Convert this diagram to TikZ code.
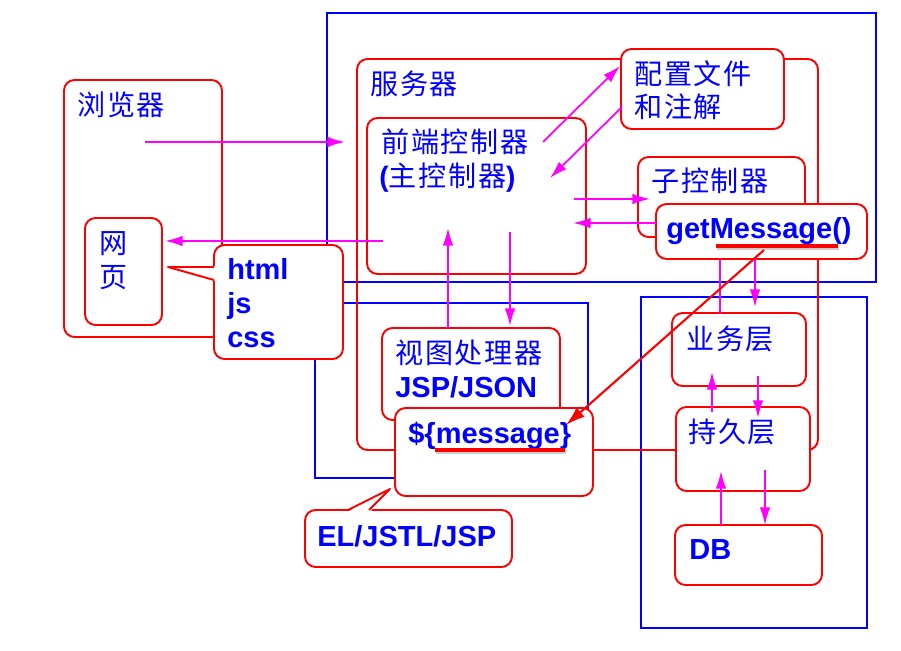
\documentclass[tikz,border=0pt]{standalone}
\usepackage{fontspec}
\setmainfont{Liberation Sans}
\newfontfamily\cjk[LetterSpace=6]{Noto Sans CJK SC}
\usetikzlibrary{fit,arrows.meta}
\definecolor{fucsia}{RGB}{255,0,255}

\begin{document}
\begin{tikzpicture}[x=0.02cm, y=-0.02cm,
        % Cajas rojas con esquinas redondeadas
        caja/.style={draw=red, line width=1.1pt, rounded corners=6pt, fill=white, inner sep=0pt},
        % Marcos azules (capas)
        marco/.style={draw=blue, line width=1.1pt, inner sep=0pt},
        % Flechas y lineas fucsia
        flecha/.style={fucsia, line width=1pt, -{Latex[length=10pt,width=6pt]}},
        linea/.style={fucsia, line width=1pt},
        % Textos
        cn/.style={text=blue, font=\cjk\fontsize{16}{19}\selectfont, inner sep=0pt, anchor=west},
        en/.style={text=blue, font=\bfseries\fontsize{16.5}{19}\selectfont, inner sep=0pt, anchor=base west},
        subraya/.style={red, line width=1.8pt}
    ]
    \useasboundingbox (0,0) rectangle (901,651);

    % Marcos azules
    \node[marco, fit={(327,13) (876,282)}] (mservidor) {};
    \node[marco, fit={(315,303) (588,478)}] (mvista) {};
    \node[marco, fit={(641,297) (867,628)}] (mdatos) {};

    % Cajas
    \node[caja, fit={(64,80) (222,337)}] (navegador) {};
    \node[caja, fit={(85,218) (162,325)}] (pagina) {};
    \node[caja, fill=none, fit={(357,59) (818,450)}] (servidor) {};
    \node[caja, fit={(367,118) (586,274)}] (frontal) {};
    \node[caja, fit={(621,49) (784,129)}] (config) {};
    \node[caja, fit={(638,157) (805,237)}] (subctrl) {};
    \node[caja, fit={(656,204) (867,259)}] (getmsg) {};
    \node[caja, fit={(382,328) (560,420)}] (vista) {};
    \node[caja, fit={(395,408) (593,496)}] (msg) {};
    \node[caja, fit={(672,313) (806,386)}] (negocio) {};
    \node[caja, fit={(676,407) (810,491)}] (persist) {};
    \node[caja, fit={(675,525) (822,585)}] (db) {};
    \node[caja, fit={(214,245) (343,359)}] (recursos) {};
    \node[caja, fit={(305,510) (512,567)}] (el) {};

    % Colas de los globos
    \fill[white] (216,266) -- (168,267) -- (216,281) -- cycle;
    \draw[red, line width=1.1pt, line join=round] (214,267) -- (168,267) -- (214,280);
    \fill[white] (347,512) -- (390,489) -- (370,512) -- cycle;
    \draw[red, line width=1.1pt, line join=round] (348,510) -- (390,489) -- (369,510);

    % Extremos de las flechas
    \coordinate (a1) at (145,142);  \coordinate (b1) at (345,142);
    \coordinate (a2) at (383,241);  \coordinate (b2) at (165,241);
    \coordinate (a3) at (543,142);  \coordinate (b3) at (620,66);
    \coordinate (a4) at (622,107);  \coordinate (b4) at (550,178);
    \coordinate (a5) at (574,199);  \coordinate (b5) at (650,199);
    \coordinate (a6) at (656,223);  \coordinate (b6) at (573,223);
    \coordinate (a7) at (448,328);  \coordinate (b7) at (448,228);
    \coordinate (a8) at (510,232);  \coordinate (b8) at (510,326);
    \coordinate (a9) at (720,259);  \coordinate (b9) at (720,313);
    \coordinate (a10) at (755,259); \coordinate (b10) at (755,307);
    \coordinate (a11) at (712,412); \coordinate (b11) at (712,372);
    \coordinate (a12) at (758,376); \coordinate (b12) at (758,418);
    \coordinate (a13) at (721,525); \coordinate (b13) at (721,471);
    \coordinate (a14) at (765,470); \coordinate (b14) at (765,525);

    \draw[flecha] (a1) -- (b1);
    \draw[flecha] (a2) -- (b2);
    \draw[flecha] (a3) -- (b3);
    \draw[flecha] (a4) -- (b4);
    \draw[flecha] (a5) -- (b5);
    \draw[flecha] (a6) -- (b6);
    \draw[flecha] (a7) -- (b7);
    \draw[flecha] (a8) -- (b8);
    \draw[linea]  (a9) -- (b9);
    \draw[flecha] (a10) -- (b10);
    \draw[flecha] (a11) -- (b11);
    \draw[flecha] (a12) -- (b12);
    \draw[flecha] (a13) -- (b13);
    \draw[flecha] (a14) -- (b14);

    % Textos
    \node[cn] (tnav) at (77,105) {浏览器};
    \node[cn] (tpag1) at (99,244) {网};
    \node[cn] (tpag2) at (99,278) {页};
    \node[cn] (tserv) at (370,84) {服务器};
    \node[cn] (tfront1) at (381,142) {前端控制器};
    \node[cn] (tfront2) at (379,178) {{\normalfont\bfseries(}主控制器{\normalfont\bfseries)}};
    \node[cn] (tconf1) at (634,74) {配置文件};
    \node[cn] (tconf2) at (634,107) {和注解};
    \node[cn] (tsub) at (651,181) {子控制器};
    \node[cn] (tvista) at (395,353) {视图处理器};
    \node[cn] (tneg) at (686,339) {业务层};
    \node[cn] (tper) at (688,432) {持久层};
    \node[en] (thtml) at (227,280) {html};
    \node[en] (tjs) at (227,314) {js};
    \node[en] (tcss) at (227,347) {css};
    \node[en] (tget) at (666,239) {getMessage()};
    \node[en] (tjsp) at (395,397) {JSP/JSON};
    \node[en] (tmsg) at (408,443) {\$\{message\}};
    \node[en] (tel) at (317,546) {EL/JSTL/JSP};
    \node[en] (tdb) at (689,559) {DB};

    % Subrayados
    \coordinate (u1) at (716,246); \coordinate (v1) at (838,246);
    \coordinate (u2) at (435,450); \coordinate (v2) at (565,450);
    \draw[gray!40, line width=1.8pt] ([shift={(1,2.5)}]u1) -- ([shift={(1,2.5)}]v1);
    \draw[gray!40, line width=1.8pt] ([shift={(1,2.5)}]u2) -- ([shift={(1,2.5)}]v2);
    \draw[subraya] (u1) -- (v1);
    \draw[subraya] (u2) -- (v2);

    % Flecha roja de getMessage a message
    \coordinate (r1) at (764,250); \coordinate (r2) at (566,425);
    \draw[red, line width=1.2pt, -{Latex[length=11pt,width=7pt]}] (r1) -- (r2);
\end{tikzpicture}
\end{document}
